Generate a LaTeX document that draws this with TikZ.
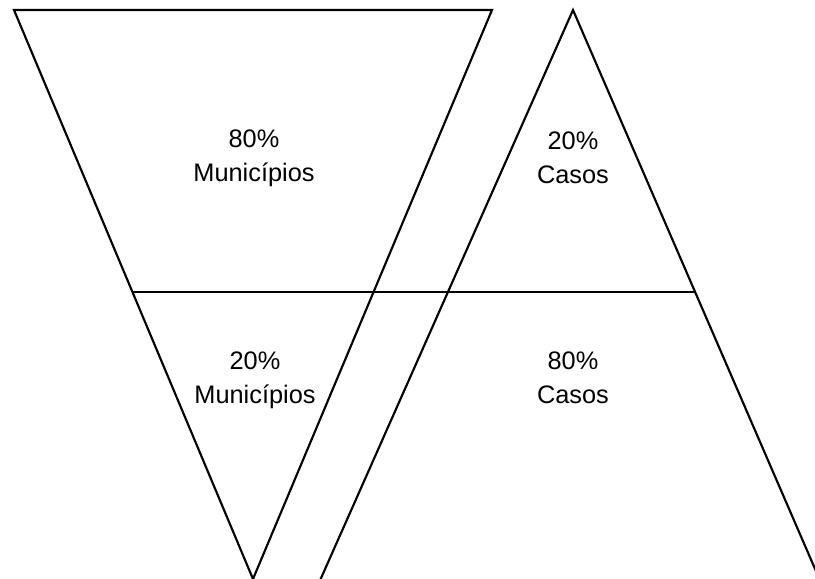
\documentclass[tikz,border=0pt]{standalone}
\usepackage{fontspec}
\setmainfont{Liberation Sans}
\tikzset{
  edge/.style={line width=1.6pt, line join=miter},
  split/.style={line width=1pt},
  label/.style={align=center, anchor=base, font=\fontsize{19}{25.5}\selectfont}
}
\begin{document}
\begin{tikzpicture}[x=0.75pt,y=-0.75pt]
        \useasboundingbox (0,0) rectangle (815,579);
        \clip (0,0) rectangle (815,579);

        % Triangolo rovesciato (municipi)
        \coordinate (mTL) at (14,10);
        \coordinate (mTR) at (492,10);
        \coordinate (mB) at (253,579);
        \draw[edge] (mTL) -- (mTR) -- (mB) -- cycle;

        % Triangolo dritto (casi)
        \coordinate (cT) at (573,10);
        \coordinate (cBL) at (318,585);
        \coordinate (cBR) at (822,585);
        \draw[edge] (cBL) -- (cT) -- (cBR);

        % Linea di separazione
        \coordinate (divL) at (133,292);
        \coordinate (divR) at (695,292);
        \draw[split] (divL) -- (divR);

        \node[label] (mTop) at (254,181) {80\%\\Municípios};
        \node[label] (mBot) at (255,403) {20\%\\Municípios};
        \node[label] (cTop) at (573,183) {20\%\\Casos};
        \node[label] (cBot) at (573,403) {80\%\\Casos};
\end{tikzpicture}
\end{document}
